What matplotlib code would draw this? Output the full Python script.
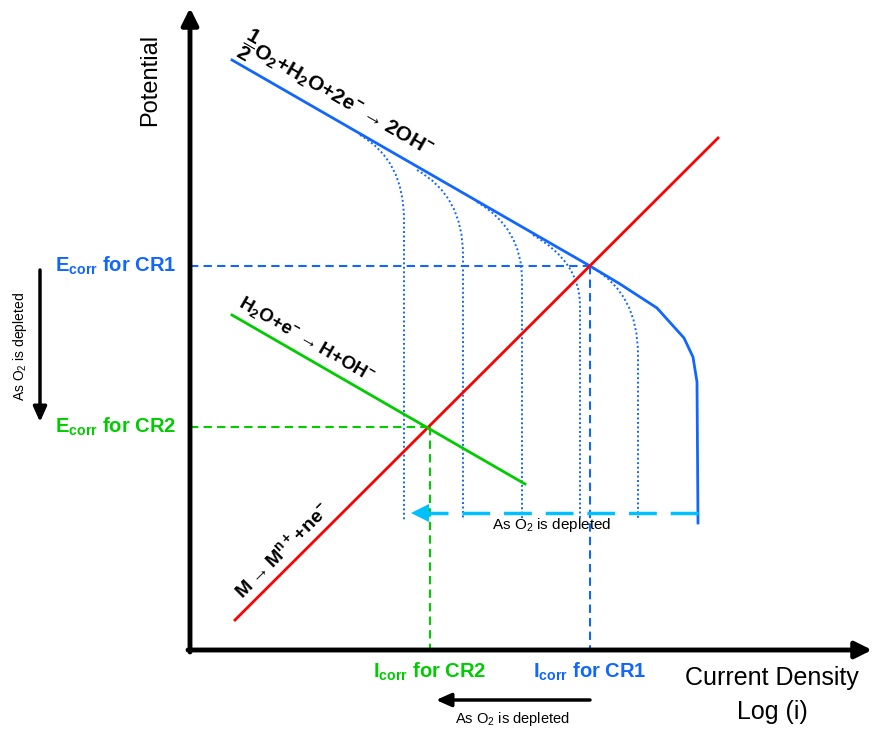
import matplotlib
matplotlib.use("Agg")
import matplotlib.pyplot as plt
from matplotlib.path import Path
from matplotlib.patches import PathPatch

plt.rcParams['font.family'] = ['Liberation Sans', 'DejaVu Sans']
plt.rcParams['mathtext.default'] = 'regular'

BLUE = '#1166ff'
GREEN = '#00cc00'
RED = '#ff0000'
CYAN = '#00c0ff'

# schematic values (x = log i, y = potential, arbitrary units)
o2_x = [42, 400, 430, 467, 494, 503, 507, 508]
o2_y = [590, 384, 366, 342, 312, 293, 268, 127]
metal_x = [45, 528]
metal_y = [30, 512]
h2o_x = [42, 335]
h2o_y = [335, 166]

ecorr1, icorr1 = 384, 400
ecorr2, icorr2 = 223, 240

# dotted limiting-current curves: branch point, limiting current, knee, end
dot_start_x = [170, 227, 287, 343, 403]
dot_start_y = [515, 480, 448, 415, 382]
dot_limit_x = [214, 273, 332, 390, 448]
dot_ctrl_y = [490, 454, 422, 388, 356]
dot_knee_y = [430, 395, 370, 345, 295]
dot_end_y = 130

fig = plt.figure(figsize=(8.72, 7.3), dpi=100)
ax = fig.add_axes([0, 0, 1, 1])
ax.set_xlim(-190, 682)
ax.set_ylim(-80, 650)
ax.axis('off')

# axes arrows
arr = dict(arrowstyle='-|>,head_length=1.0,head_width=0.5', lw=3.5, color='black',
           shrinkA=0, shrinkB=0)
ax.annotate('', xy=(0, 642), xytext=(0, -2), arrowprops=arr)
ax.annotate('', xy=(682, 0), xytext=(-2, 0), arrowprops=arr)

# Ecorr / Icorr guide lines
ax.plot([0, icorr1], [ecorr1, ecorr1], color=BLUE, ls=(0, (4, 2.5)), lw=1.5)
ax.plot([icorr1, icorr1], [ecorr1, 0], color=BLUE, ls=(0, (4, 2.5)), lw=1.5)
ax.plot([0, icorr2], [ecorr2, ecorr2], color=GREEN, ls=(0, (4, 2.5)), lw=1.5)
ax.plot([icorr2, icorr2], [ecorr2, 0], color=GREEN, ls=(0, (4, 2.5)), lw=1.5)

# dotted curves
for sx, sy, lx, cy, ky in zip(dot_start_x, dot_start_y, dot_limit_x, dot_ctrl_y, dot_knee_y):
    p = Path([(sx, sy), (lx, cy), (lx, ky), (lx, dot_end_y)],
             [Path.MOVETO, Path.CURVE3, Path.CURVE3, Path.LINETO])
    ax.add_patch(PathPatch(p, fill=False, ec=BLUE, lw=1.4, ls=(0, (1, 1.3))))

# main lines
ax.plot(o2_x, o2_y, color=BLUE, lw=2)
ax.plot(metal_x, metal_y, color=RED, lw=2)
ax.plot(h2o_x, h2o_y, color=GREEN, lw=2)

# cyan arrow
ax.plot([508, 236], [137, 137], color=CYAN, lw=2.5, ls=(0, (8, 4)))
ax.annotate('', xy=(221, 137), xytext=(240, 137),
            arrowprops=dict(arrowstyle='-|>,head_length=1.3,head_width=0.65',
                            color=CYAN, lw=0, shrinkA=0, shrinkB=0))
ax.text(362, 125, 'As O$_2$ is depleted', ha='center', va='center', fontsize=11)

# equations
ax.text(49, 603, r'$\dfrac{1}{2}$O$_2$+H$_2$O+2e$^{-}$$\rightarrow$2OH$^{-}$',
        rotation=-30, rotation_mode='anchor', ha='left', va='baseline',
        fontsize=15, fontweight='bold')
ax.text(45, 340, 'H$_2$O+e$^{-}$$\\rightarrow$H+OH$^{-}$',
        rotation=-30, rotation_mode='anchor', ha='left', va='bottom',
        fontsize=13.5, fontweight='bold')
ax.text(55, 48, 'M$\\rightarrow$M$^{n+}$+ne$^{-}$',
        rotation=45, rotation_mode='anchor', ha='left', va='bottom',
        fontsize=14, fontweight='bold')

# labels
ax.text(-40, 570, 'Potential', rotation=90, ha='center', va='center', fontsize=17)
ax.text(582, -28, 'Current Density', ha='center', va='center', fontsize=18)
ax.text(582, -62, 'Log (i)', ha='center', va='center', fontsize=18)

ax.text(-135, ecorr1, 'E$_{corr}$ for CR1', ha='left', va='center',
        fontsize=14.5, fontweight='bold', color=BLUE)
ax.text(-135, ecorr2, 'E$_{corr}$ for CR2', ha='left', va='center',
        fontsize=14.5, fontweight='bold', color=GREEN)
ax.text(icorr2, -22, 'I$_{corr}$ for CR2', ha='center', va='center',
        fontsize=14.5, fontweight='bold', color=GREEN)
ax.text(icorr1, -22, 'I$_{corr}$ for CR1', ha='center', va='center',
        fontsize=14.5, fontweight='bold', color=BLUE)

black_arr = dict(arrowstyle='-|>,head_length=0.9,head_width=0.4', lw=2.5,
                 color='black', shrinkA=0, shrinkB=0)
ax.annotate('', xy=(-150, 228), xytext=(-150, 380), arrowprops=black_arr)
ax.text(-170, 303, 'As O$_2$ is depleted', rotation=90, ha='center', va='center', fontsize=10)
ax.annotate('', xy=(246, -50), xytext=(400, -50), arrowprops=black_arr)
ax.text(322, -69, 'As O$_2$ is depleted', ha='center', va='center', fontsize=10.5)

fig.savefig('out.png', dpi=100)
